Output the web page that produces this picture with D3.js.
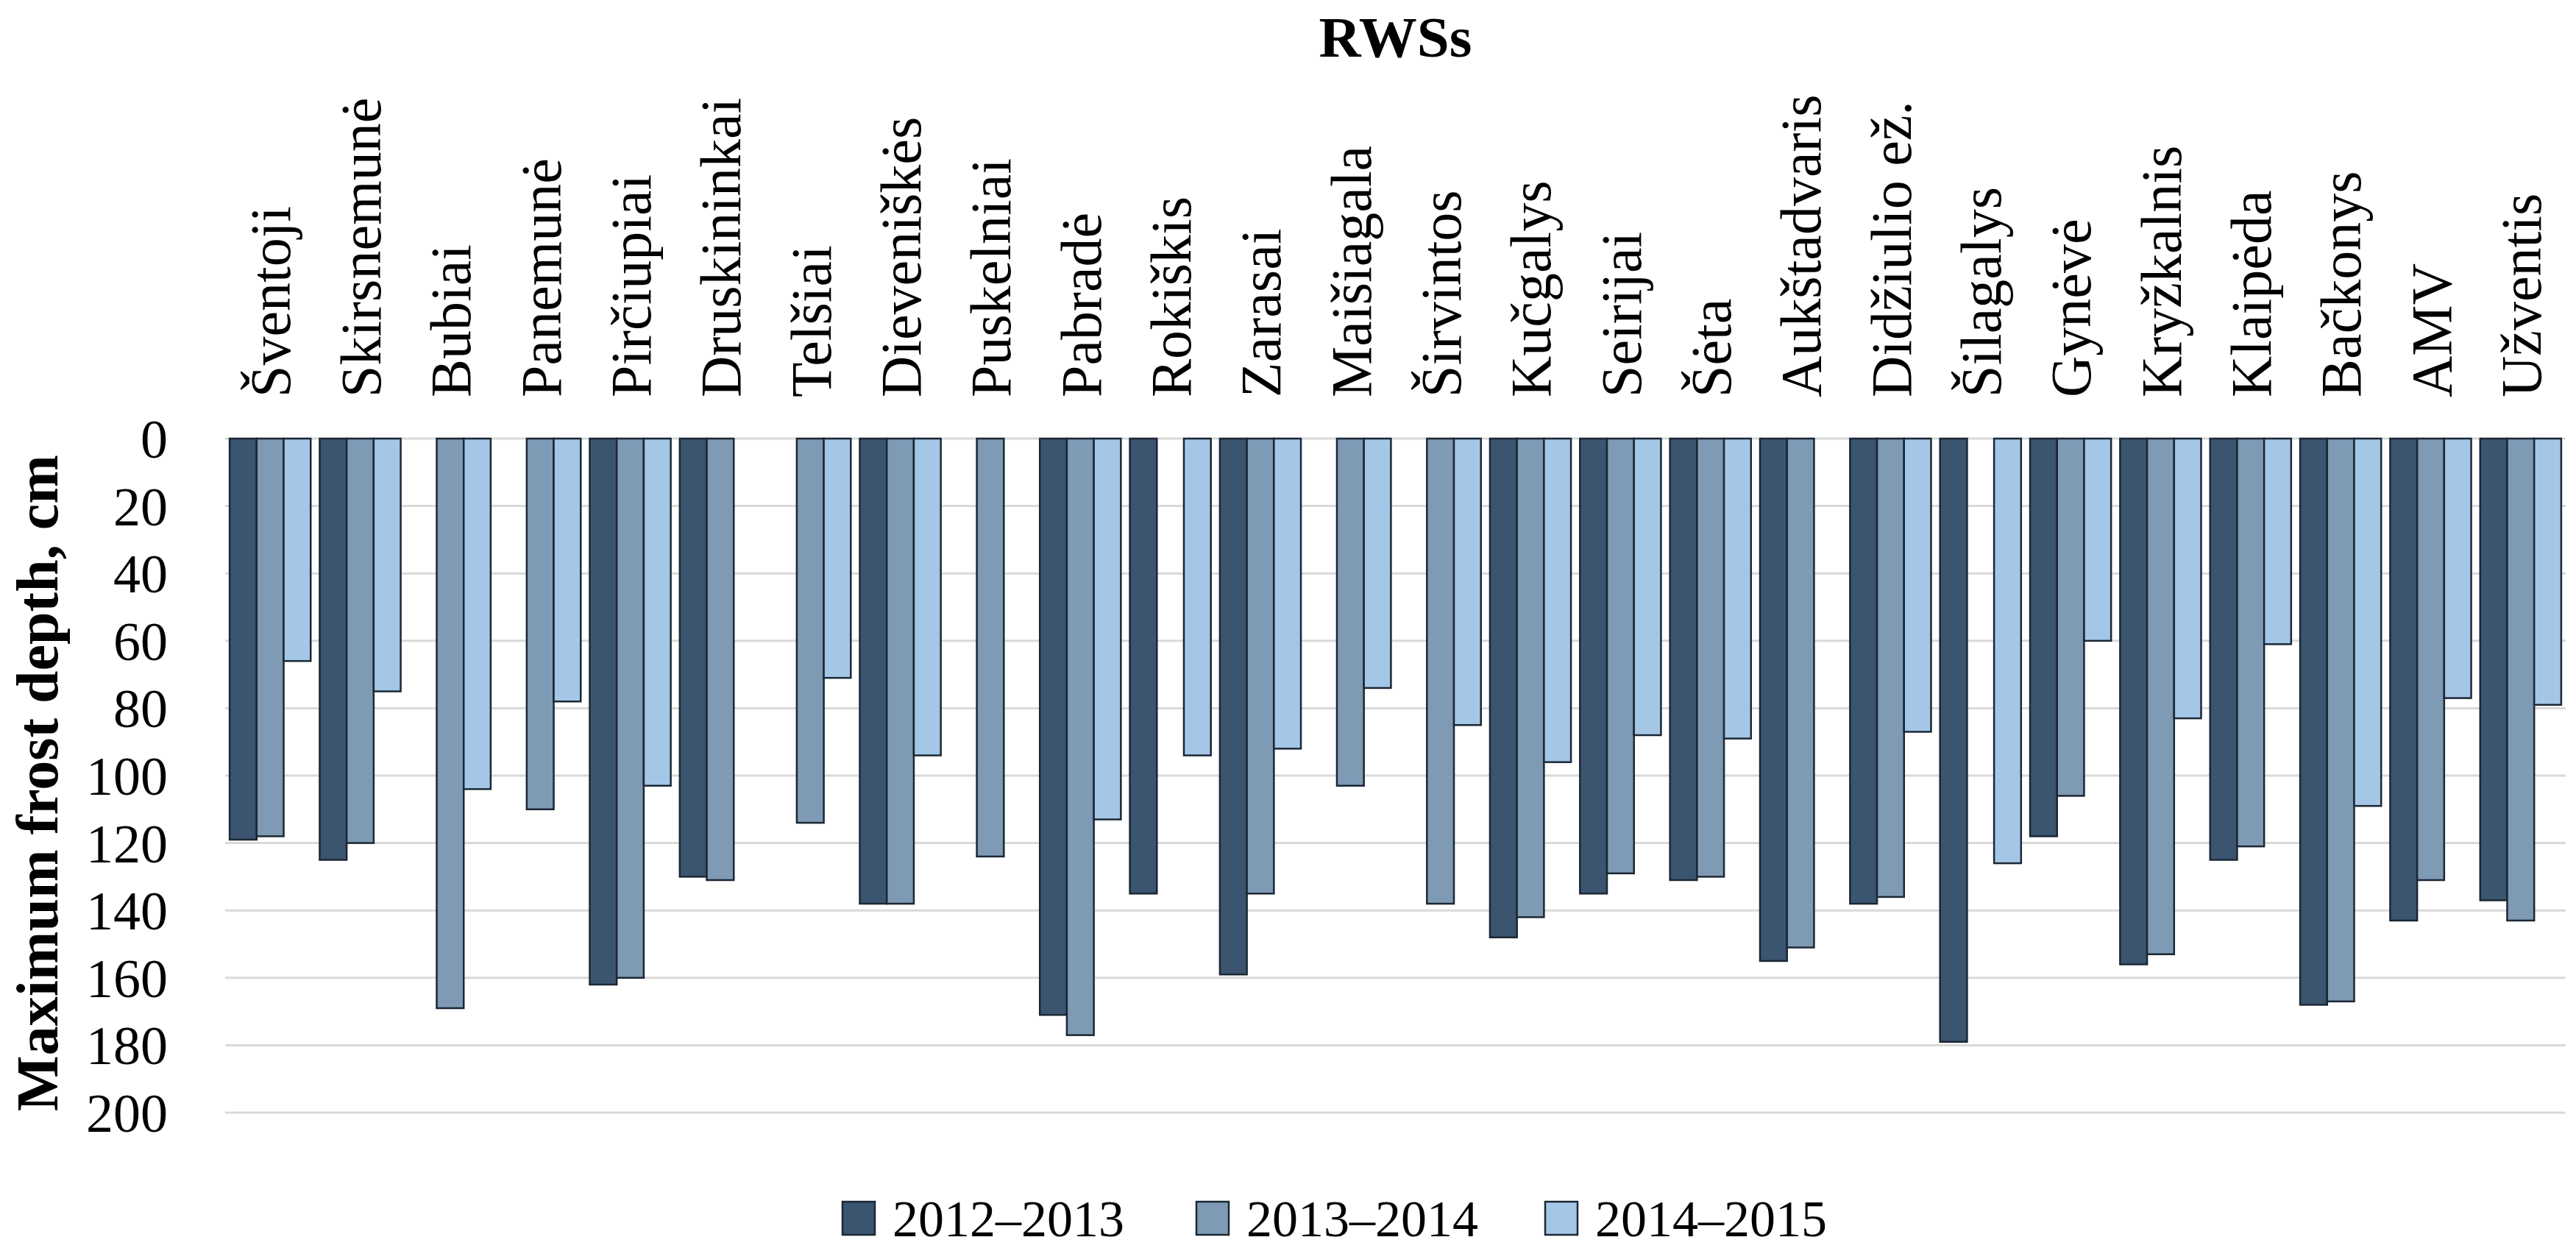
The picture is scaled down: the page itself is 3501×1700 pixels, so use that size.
<!DOCTYPE html>
<html>
<head>
<meta charset="utf-8">
<script src="https://cdn.jsdelivr.net/npm/d3@7"></script>
<style>
  html, body { margin: 0; padding: 0; background: #ffffff; }
  svg { display: block; }
</style>
</head>
<body>
<svg id="chart" width="3501" height="1700"></svg>
<script>
const stations = ["Šventoji","Skirsnemunė","Bubiai","Panemunė","Pirčiupiai","Druskininkai","Telšiai","Dieveniškės","Puskelniai","Pabradė","Rokiškis","Zarasai","Maišiagala","Širvintos","Kučgalys","Seirijai","Šėta","Aukštadvaris","Didžiulio ež.","Šilagalys","Gynėvė","Kryžkalnis","Klaipėda","Bačkonys","AMV","Užventis"];
const seriesNames = ["2012–2013","2013–2014","2014–2015"];
const s2012_2013 = [119,125,null,null,162,130,null,138,null,171,135,159,null,null,148,135,131,155,138,179,118,156,125,168,143,137];
const s2013_2014 = [118,120,169,110,160,131,114,138,124,177,null,135,103,138,142,129,130,151,136,null,106,153,121,167,131,143];
const s2014_2015 = [66,75,104,78,103,null,71,94,null,113,94,92,74,85,96,88,89,null,87,126,60,83,61,109,77,79];
const yTicks = [0,20,40,60,80,100,120,140,160,180,200];
const titleText = "RWSs";
const yTitleText = "Maximum frost depth, cm";

(function () {
const seriesValues = [s2012_2013, s2013_2014, s2014_2015];
const colors = ["#3b546f", "#7f9ab5", "#a4c7e8"];
const FONT = "'Liberation Serif','Times New Roman',serif";

const svg = d3.select("#chart");
const pLeft = 306, pRight = 3487, pTop = 596, pBottom = 1512;

const x0 = d3.scaleBand().domain(stations).range([pLeft, pRight]).paddingInner(0.1).paddingOuter(0.05);
const x1 = d3.scaleBand().domain(seriesNames).range([0, x0.bandwidth()]).padding(0);
const y = d3.scaleLinear().domain([0, 200]).range([pTop, pBottom]);

// gridlines
svg.append("g").selectAll("line").data(yTicks).join("line")
  .attr("x1", pLeft).attr("x2", pRight)
  .attr("y1", d => y(d)).attr("y2", d => y(d))
  .attr("stroke", "#d9d9d9").attr("stroke-width", 3);

// y tick labels
svg.append("g").selectAll("text").data(yTicks).join("text")
  .attr("x", 228).attr("y", d => y(d)).attr("dy", "0.35em")
  .attr("text-anchor", "end")
  .attr("font-family", FONT).attr("font-size", 74).attr("fill", "#000")
  .text(d => d);

// bars
const barData = [];
stations.forEach((st, i) => {
  seriesNames.forEach((sn, j) => {
    const v = seriesValues[j][i];
    if (v !== null) barData.push({st, sn, v, j});
  });
});
svg.append("g").selectAll("rect").data(barData).join("rect")
  .attr("x", d => x0(d.st) + x1(d.sn))
  .attr("y", y(0))
  .attr("width", x1.bandwidth())
  .attr("height", d => y(d.v) - y(0))
  .attr("fill", d => colors[d.j])
  .attr("stroke", "#1b2734").attr("stroke-width", 2.5);

// category labels
svg.append("g").selectAll("text").data(stations).join("text")
  .attr("transform", d => `translate(${x0(d) + x0.bandwidth()/2},540) rotate(-90)`)
  .attr("dy", "0.35em")
  .attr("text-anchor", "start")
  .attr("font-family", FONT).attr("font-size", 78).attr("fill", "#000")
  .text(d => d);

// title
svg.append("text")
  .attr("x", (pLeft + pRight) / 2).attr("y", 77)
  .attr("text-anchor", "middle")
  .attr("font-family", FONT).attr("font-size", 79).attr("font-weight", "bold")
  .text(titleText);

// y title
svg.append("text")
  .attr("transform", `translate(78,${(pTop + pBottom) / 2 + 10}) rotate(-90)`)
  .attr("text-anchor", "middle")
  .attr("font-family", FONT).attr("font-size", 80).attr("font-weight", "bold")
  .text(yTitleText);

// legend
const legendX = [1145, 1626, 2100];
const lg = svg.append("g").selectAll("g").data(seriesNames).join("g")
  .attr("transform", (d, i) => `translate(${legendX[i]},1633)`);
lg.append("rect").attr("width", 44).attr("height", 45)
  .attr("fill", (d, i) => colors[i]).attr("stroke", "#1b2734").attr("stroke-width", 2.5);
lg.append("text").attr("x", 68).attr("y", 22).attr("dy", "0.35em")
  .attr("font-family", FONT).attr("font-size", 70).attr("fill", "#000")
  .text(d => d);
})();
</script>
</body>
</html>
